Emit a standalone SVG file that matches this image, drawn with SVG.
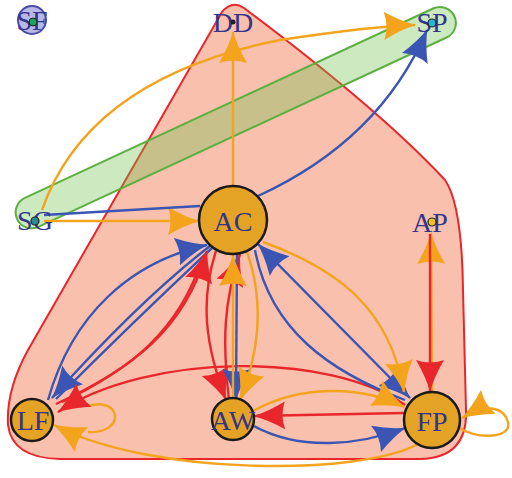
<svg xmlns="http://www.w3.org/2000/svg" width="512" height="478" viewBox="0 0 512 478">
<style>
.o{stroke:#f3a41c}.b{stroke:#3a55b4}.r{stroke:#e8262b}
.big{fill:#e5a326;stroke:#1a1a1a;stroke-width:2.5}
.lbl{font-family:"Liberation Serif","Times New Roman",serif;font-size:28px;fill:#34348a;text-anchor:middle}
</style>
<defs>
<marker id="ao" markerUnits="userSpaceOnUse" markerWidth="32" markerHeight="28" viewBox="0 0 32 28" refX="31" refY="14" orient="auto-start-reverse"><path d="M32,14 Q17,10 0,0 Q5,14 0,28 Q17,18 32,14 Z" fill="#f3a41c"/></marker>
<marker id="ab" markerUnits="userSpaceOnUse" markerWidth="32" markerHeight="28" viewBox="0 0 32 28" refX="31" refY="14" orient="auto-start-reverse"><path d="M32,14 Q17,10 0,0 Q5,14 0,28 Q17,18 32,14 Z" fill="#3a55b4"/></marker>
<marker id="ar" markerUnits="userSpaceOnUse" markerWidth="32" markerHeight="28" viewBox="0 0 32 28" refX="31" refY="14" orient="auto-start-reverse"><path d="M32,14 Q17,10 0,0 Q5,14 0,28 Q17,18 32,14 Z" fill="#e8262b"/></marker>
</defs>
<rect width="512" height="478" fill="#ffffff"/>
<g id="hulls">
<path id="hull-red" d="M 222,12 Q 232,0 244,8 Q 380,110 445,180 Q 462,205 463,290 L 466,410 Q 468,458 420,459 L 60,459 Q 12,458 8,425 Q 6,390 28,350 Z" fill="#ee6a3c" fill-opacity="0.42" stroke="#e8262b" stroke-width="2"/>
<rect id="hull-green" x="-12" y="-16" width="482" height="32" rx="16" transform="translate(28,214) rotate(-24.88)" fill="#6cbf4a" fill-opacity="0.35" stroke="#5cb040" stroke-width="2"/>
</g>
<g id="connectors" fill="none" stroke-width="2.4">
<path class="o" d="M 44,221 L 199,221" marker-end="url(#ao)"/>
<path class="b" d="M 44,215 L 200,206"/>
<path class="o" d="M 42,210 C 70,130 140,68 280,40 C 340,31 380,26 415,25" marker-end="url(#ao)"/>
<path class="o" d="M 233,186 L 233,32" marker-end="url(#ao)"/>
<path class="b" d="M 258,196 Q 380,140 427,30" marker-end="url(#ab)"/>
<path class="o" d="M 432,391 L 431,233" marker-end="url(#ao)"/>
<path class="r" d="M 430,234 L 430,391" marker-end="url(#ar)"/>
<path class="o" d="M 459,428 C 480,440 512,438 508,422 C 504,408 488,402 462,418" marker-end="url(#ao)"/>
<path class="o" d="M 88,406 C 122,396 126,434 88,432"/>
<path class="b" d="M 48,400 C 72,315 130,262 207,245" marker-end="url(#ab)"/>
<path class="b" d="M 212,248 Q 135,320 56,399"/>
<path class="b" d="M 210,246 Q 140,300 52,398" marker-end="url(#ab)"/>
<path class="r" d="M 56,404 C 130,370 185,330 207,251" marker-end="url(#ar)"/>
<path class="r" d="M 203,256 C 180,330 130,370 62,402"/>
<path class="r" d="M 405,405 C 330,352 150,352 58,412" marker-end="url(#ar)"/>
<path class="r" d="M 216,251 C 200,300 205,345 226,400" marker-end="url(#ar)"/>
<path class="r" d="M 229,400 C 222,340 224,300 240,254" marker-end="url(#ar)"/>
<path class="b" d="M 237,254 L 236,400" marker-end="url(#ab)"/>
<path class="o" d="M 233,400 L 233,255" marker-end="url(#ao)"/>
<path class="o" d="M 247,252 C 264,300 260,350 240,400" marker-end="url(#ao)"/>
<path class="b" d="M 255,250 C 270,330 330,372 405,400"/>
<path class="b" d="M 410,398 L 258,244" marker-start="url(#ab)" marker-end="url(#ab)"/>
<path class="o" d="M 263,242 C 340,270 390,310 404,392" marker-end="url(#ao)"/>
<path class="r" d="M 404,413 L 254,416" marker-end="url(#ar)"/>
<path class="o" d="M 253,411 C 300,385 360,385 404,407" marker-end="url(#ao)"/>
<path class="b" d="M 252,425 C 300,452 360,445 405,428" marker-end="url(#ab)"/>
<path class="o" d="M 418,444 C 360,476 150,476 54,425" marker-end="url(#ao)"/>
</g>
<g id="SF"><circle cx="32" cy="20" r="14" fill="#b8b8e8" stroke="#4a4aa8" stroke-width="2"/><text class="lbl" x="32" y="30">SF</text><circle cx="33" cy="22" r="4" fill="#1aa05a" stroke="#222" stroke-width="1"/></g>
<g id="DD"><text class="lbl" x="233" y="32">DD</text><circle cx="233" cy="22" r="2.5" fill="#222"/></g>
<g id="SP"><text class="lbl" x="432" y="32">SP</text><circle cx="432" cy="23" r="4" fill="#28b4d8" stroke="#222" stroke-width="1.2"/></g>
<g id="SG"><text class="lbl" x="35" y="230">SG</text><circle cx="35" cy="221" r="4" fill="#2a8a9a" stroke="#222" stroke-width="1.2"/></g>
<g id="AP"><text class="lbl" x="430" y="232">AP</text><circle cx="432" cy="222" r="4" fill="#f0c020" stroke="#222" stroke-width="1.2"/></g>
<g id="AC"><circle class="big" cx="233" cy="220" r="34"/><text class="lbl" x="233" y="231">AC</text></g>
<g id="LF"><circle class="big" cx="32" cy="420" r="21"/><text class="lbl" x="33" y="430">LF</text></g>
<g id="AW"><circle class="big" cx="233" cy="419" r="21"/><text class="lbl" x="233" y="430">AW</text></g>
<g id="FP"><circle class="big" cx="432" cy="420" r="28"/><text class="lbl" x="432" y="431">FP</text></g>
</svg>
